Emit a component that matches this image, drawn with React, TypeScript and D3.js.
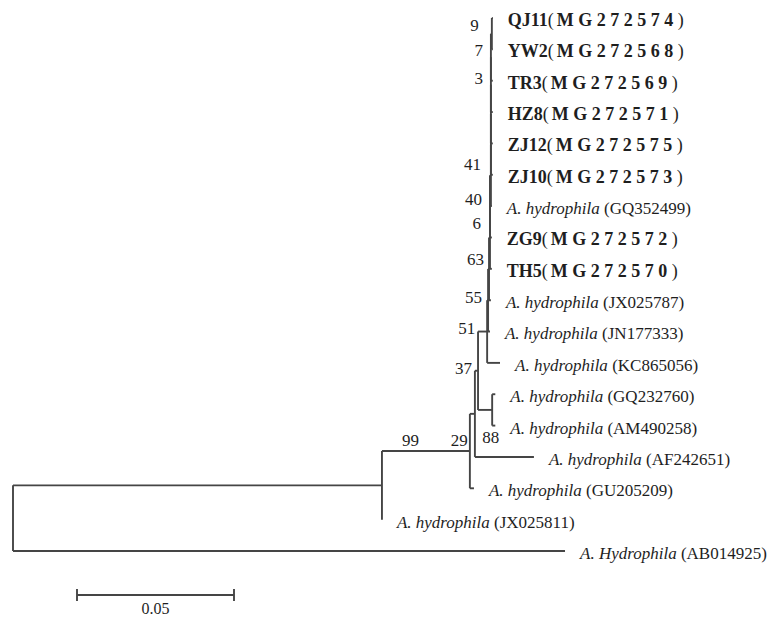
import * as d3 from "d3";

// leaves, top to bottom
const LEAF_IDS = [
  "QJ11", "YW2", "TR3", "HZ8", "ZJ12", "ZJ10", "GQ352499", "ZG9", "TH5",
  "JX025787", "JN177333", "KC865056", "GQ232760", "AM490258", "AF242651",
  "GU205209", "JX025811", "AB014925",
];
const LEAF_NAMES = [
  "QJ11", "YW2", "TR3", "HZ8", "ZJ12", "ZJ10", "A. hydrophila", "ZG9", "TH5",
  "A. hydrophila", "A. hydrophila", "A. hydrophila", "A. hydrophila", "A. hydrophila",
  "A. hydrophila", "A. hydrophila", "A. hydrophila", "A. Hydrophila",
];
const LEAF_ACCESSIONS = [
  "MG272574", "MG272568", "MG272569", "MG272571", "MG272575", "MG272573", "GQ352499",
  "MG272572", "MG272570", "JX025787", "JN177333", "KC865056", "GQ232760", "AM490258",
  "AF242651", "GU205209", "JX025811", "AB014925",
];
// isolates from this study are printed in bold
const ISOLATES = ["QJ11", "YW2", "TR3", "HZ8", "ZJ12", "ZJ10", "ZG9", "TH5"];

// [child, parent, branch length]
const EDGES: [string, string, number][] = [
  ["nB", "root", 0.1175], ["AB014925", "root", 0.1758],
  ["nA", "nB", 0.028], ["JX025811", "nB", 0],
  ["n29", "nA", 0.0016], ["GU205209", "nA", 0.0013],
  ["n37", "n29", 0.001], ["AF242651", "n29", 0.0188],
  ["c11", "n37", 0.0029], ["n88", "n37", 0.0045],
  ["GQ232760", "n88", 0.001], ["AM490258", "n88", 0.001],
  ["c10", "c11", 0.0003], ["KC865056", "c11", 0.0041],
  ["c9", "c10", 0.0003], ["JN177333", "c10", 0.0006],
  ["c8", "c9", 0.0003], ["JX025787", "c9", 0.0006],
  ["c7", "c8", 0], ["TH5", "c8", 0.0006],
  ["c6", "c7", 0.0003], ["ZG9", "c7", 0.0006],
  ["c5", "c6", 0], ["GQ352499", "c6", 0.0003],
  ["c4", "c5", 0], ["ZJ10", "c5", 0.0006],
  ["c3", "c4", 0], ["ZJ12", "c4", 0.0006],
  ["c2", "c3", 0], ["HZ8", "c3", 0.0006],
  ["c1", "c2", 0.0003], ["TR3", "c2", 0.0006],
  ["QJ11", "c1", 0.0003], ["YW2", "c1", 0.0003],
];

// bootstrap values (%)
const SUPPORT: Record<string, number> = {
  c1: 9, c2: 7, c3: 3, c6: 41, c7: 40, c8: 6, c9: 63, c10: 55, c11: 51,
  n37: 37, n88: 88, nA: 29, nB: 99,
};

const SCALE_BAR = 0.05;

const W = 777;
const H = 619;
const ROOT_X = 13;
const PX_PER_UNIT = 3140;
const LINE = "#454545";
const TEXT = "#1e1e1e";
const FONT = '"Liberation Serif", "DejaVu Serif", serif';
// a few bootstrap labels sit away from their node in the original
const LABEL_NUDGE: Record<string, [number, number]> = {
  nB: [45, -38],
  n88: [15, 34],
  c1: [-5, -2],
  c6: [-2, -4],
  c8: [-1, -8],
  c9: [3, -3],
  c10: [2, 4],
  c11: [-4, 4],
  n37: [2, 4],
  nA: [6, -4],
};

type Row = { id: string; parentId: string | null; len: number };

export default function App() {
  const rows: Row[] = [
    { id: "root", parentId: null, len: 0 },
    ...EDGES.map(([id, parentId, len]) => ({ id, parentId, len })),
  ];
  const root = d3.stratify<Row>().id((d) => d.id).parentId((d) => d.parentId)(rows);

  const x = d3
    .scaleLinear()
    .domain([0, SCALE_BAR])
    .range([ROOT_X, ROOT_X + SCALE_BAR * PX_PER_UNIT]);
  const y = d3.scalePoint<string>().domain(LEAF_IDS).range([18, 551]);

  // distance from root
  const dist = new Map<string, number>();
  root.eachBefore((n) => {
    dist.set(n.id!, (n.parent ? dist.get(n.parent.id!)! : 0) + n.data.len);
  });

  // vertical position: leaves by order, inner nodes halfway between first and last child
  const ypos = new Map<string, number>();
  root.eachAfter((n) => {
    if (!n.children) {
      ypos.set(n.id!, y(n.id!)!);
    } else {
      n.children.sort((a, b) => ypos.get(a.id!)! - ypos.get(b.id!)!);
      const ys = n.children.map((c) => ypos.get(c.id!)!);
      ypos.set(n.id!, (ys[0] + ys[ys.length - 1]) / 2);
    }
  });

  const nodes = root.descendants();
  const nx = (id: string) => x(dist.get(id)!);
  const ny = (id: string) => ypos.get(id)!;

  const barX0 = 77;
  const barX1 = barX0 + x(SCALE_BAR) - x(0);
  const barY = 595;

  return (
    <svg
      width={W}
      height={H}
      style={{ position: "absolute", left: 0, top: 0, background: "#fff", fontFamily: FONT }}
    >
      <g stroke={LINE} strokeWidth={1.9} fill="none">
        {nodes
          .filter((n) => n.parent)
          .map((n) => (
            <line
              key={"h" + n.id}
              x1={nx(n.parent!.id!)}
              x2={nx(n.id!)}
              y1={ny(n.id!)}
              y2={ny(n.id!)}
            />
          ))}
        {nodes
          .filter((n) => n.children)
          .map((n) => {
            const ys = n.children!.map((c) => ny(c.id!));
            return (
              <line
                key={"v" + n.id}
                x1={nx(n.id!)}
                x2={nx(n.id!)}
                y1={Math.min(...ys)}
                y2={Math.max(...ys)}
              />
            );
          })}
      </g>

      {/* bootstrap values */}
      <g fill={TEXT} fontSize={17} textAnchor="end" style={{ fontFamily: FONT }}>
        {nodes
          .filter((n) => SUPPORT[n.id!] !== undefined)
          .map((n) => {
            const [dx, dy] = LABEL_NUDGE[n.id!] ?? [0, 0];
            return (
              <text
                key={"b" + n.id}
                x={nx(n.id!) - 8 + dx}
                y={ny(n.id!) - 7 + dy}
                dy="0.35em"
              >
                {SUPPORT[n.id!]}
              </text>
            );
          })}
      </g>

      {/* leaf labels */}
      <g fill={TEXT} fontSize={17} style={{ fontFamily: FONT }}>
        {LEAF_IDS.map((id, i) => {
          const bold = ISOLATES.includes(LEAF_NAMES[i]);
          return (
            <text key={"l" + id} x={nx(id) + 15} y={ny(id) + 2} dy="0.35em">
              {bold ? (
                <>
                  <tspan fontWeight="bold" fontSize={18}>{LEAF_NAMES[i]}</tspan>
                  <tspan fontSize={18} letterSpacing={3}>(</tspan>
                  <tspan fontWeight="bold" fontSize={18} letterSpacing={4.5}>
                    {LEAF_ACCESSIONS[i]}
                  </tspan>
                  <tspan fontSize={18}>)</tspan>
                </>
              ) : (
                <>
                  <tspan fontStyle="italic">{LEAF_NAMES[i]}</tspan>
                  <tspan>{" (" + LEAF_ACCESSIONS[i] + ")"}</tspan>
                </>
              )}
            </text>
          );
        })}
      </g>

      {/* scale bar */}
      <g stroke={LINE} strokeWidth={1.9}>
        <line x1={barX0} x2={barX1} y1={barY} y2={barY} />
        <line x1={barX0} x2={barX0} y1={barY - 6} y2={barY + 6} />
        <line x1={barX1} x2={barX1} y1={barY - 6} y2={barY + 6} />
      </g>
      <text
        x={(barX0 + barX1) / 2}
        y={barY + 13}
        dy="0.35em"
        textAnchor="middle"
        fontSize={16}
        fill={TEXT}
        style={{ fontFamily: FONT }}
      >
        {SCALE_BAR}
      </text>
    </svg>
  );
}
